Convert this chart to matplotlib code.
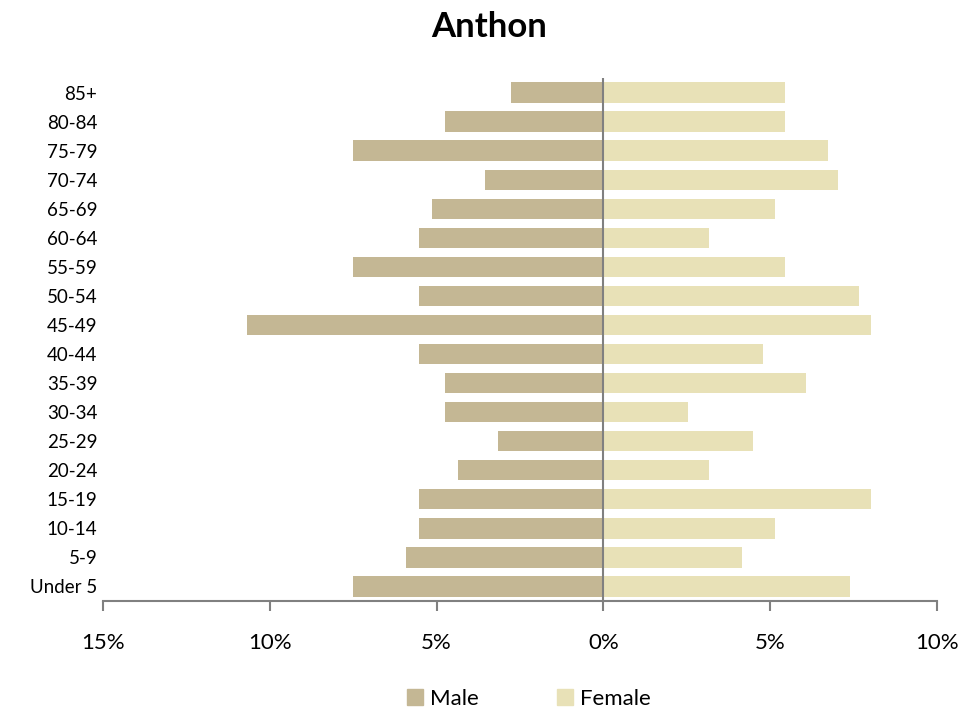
import numpy as np
from matplotlib import pyplot, ticker
from matplotlib.patches import Patch

pyplot.rcParams["font.family"] = ["Lato", "DejaVu Sans"]

age_groups = ["Under 5", "5-9", "10-14", "15-19", "20-24", "25-29", "30-34",
              "35-39", "40-44", "45-49", "50-54", "55-59", "60-64", "65-69",
              "70-74", "75-79", "80-84", "85+"]
male = [7.51, 5.93, 5.54, 5.54, 4.37, 3.17, 4.76, 4.76, 5.54, 10.69,
        5.54, 7.51, 5.54, 5.15, 3.56, 7.51, 4.76, 2.78]
female = [7.38, 4.14, 5.13, 8.01, 3.18, 4.47, 2.55, 6.06, 4.77, 8.01,
          7.65, 5.43, 3.18, 5.13, 7.02, 6.72, 5.43, 5.43]

male_colour = "#C4B794"
female_colour = "#E8E1B7"


def main():
    fig = pyplot.figure(figsize=(9.79, 7.13), dpi=100)
    ax = fig.add_axes([103 / 979, 112 / 713, 834 / 979, 523 / 713])

    y = np.arange(len(age_groups))
    ax.barh(y, -np.array(male), height=0.7, color=male_colour, label="Male")
    ax.barh(y, female, height=0.7, color=female_colour, label="Female")
    ax.axvline(0, color="#808080", linewidth=1.5)

    ax.set_xlim(-15, 10)
    ax.set_ylim(-0.5, 17.5)
    ax.set_yticks(y)
    ax.set_yticklabels(age_groups)
    ax.xaxis.set_major_locator(ticker.MultipleLocator(5))
    ax.xaxis.set_major_formatter(
        ticker.FuncFormatter(lambda v, p: "%d%%" % abs(round(v))))

    for s in ["top", "right", "left"]:
        ax.spines[s].set_visible(False)
    ax.spines["bottom"].set_color("#808080")
    ax.spines["bottom"].set_linewidth(1.5)
    ax.tick_params(axis="y", length=0, labelsize=13.5, pad=4)
    ax.tick_params(axis="x", length=7, width=1.5, color="#808080",
                   labelsize=16, pad=16)

    fig.suptitle("Anthon", fontsize=25, fontweight="bold", y=0.985)

    handles = [Patch(color=male_colour, label="Male"),
               Patch(color=female_colour, label="Female")]
    fig.legend(handles=handles, loc="lower center", ncol=2, frameon=False,
               fontsize=16, handlelength=0.75, handleheight=0.75,
               columnspacing=3.5, bbox_to_anchor=(0.54, -0.022),
               handletextpad=0.3)

    fig.savefig("out.png", dpi=100)


if __name__ == "__main__":
    main()
